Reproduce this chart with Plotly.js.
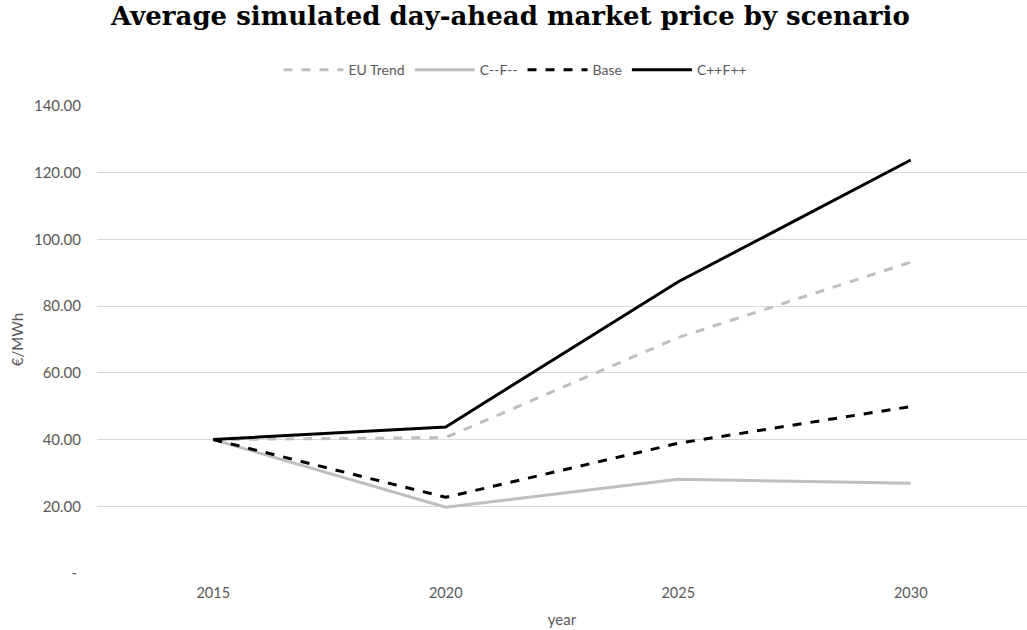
<!DOCTYPE html>
<html>
<head>
<meta charset="utf-8">
<script src="https://cdn.plot.ly/plotly-3.0.1.min.js"></script>
<style>html,body{margin:0;padding:0;background:#fff;}#chart{width:1027px;height:630px;}</style>
</head>
<body>
<div id="chart"></div>
<script>
const years = ["2015", "2020", "2025", "2030"];
const euTrend = [40.0, 40.6, 70.6, 93.2];
const cMinus = [40.0, 19.7, 28.1, 26.9];
const base = [40.0, 22.7, 38.9, 49.9];
const cPlus = [40.0, 43.8, 87.3, 123.8];
const yTickVals = [0, 20, 40, 60, 80, 100, 120, 140];
const yTickText = [" - ", "20.00", "40.00", "60.00", "80.00", "100.00", "120.00", "140.00"];

const traces = [
  {x: years, y: euTrend, name: "EU Trend", mode: "lines", line: {color: "#bfbfbf", width: 3, dash: "dash"}},
  {x: years, y: cMinus, name: "C--F--", mode: "lines", line: {color: "#bfbfbf", width: 3}},
  {x: years, y: base, name: "Base", mode: "lines", line: {color: "#000000", width: 3, dash: "dash"}},
  {x: years, y: cPlus, name: "C++F++", mode: "lines", line: {color: "#000000", width: 3}}
];

const layout = {
  width: 1027, height: 630,
  margin: {l: 97, r: 0, t: 106, b: 57},
  paper_bgcolor: "#ffffff", plot_bgcolor: "#ffffff",
  title: {text: "<b>Average simulated day-ahead market price by scenario</b>", x: 0.497, xanchor: "center", y: 0.975, yanchor: "middle",
    font: {family: "DejaVu Serif, serif", size: 26, color: "#000000"}},
  font: {family: "Lato, Open Sans, sans-serif", size: 14, color: "#595959"},
  showlegend: true,
  legend: {orientation: "h", x: 0.45, xanchor: "center", y: 1.077, yanchor: "middle", font: {size: 14, color: "#595959"}, traceorder: "normal", itemwidth: 60},
  xaxis: {type: "category", range: [-0.5, 3.5], showgrid: false, zeroline: false, showline: false, ticks: "outside", ticklen: 7, tickcolor: "rgba(0,0,0,0)",
    title: {text: "year", font: {size: 15, color: "#595959"}, standoff: 14}, tickfont: {size: 14.5, color: "#595959"}},
  yaxis: {range: [0, 140], tickvals: yTickVals, ticktext: yTickText, showgrid: true, gridcolor: "#d9d9d9", gridwidth: 1,
    zeroline: false, showline: false, ticks: "outside", ticklen: 12, tickcolor: "rgba(0,0,0,0)",
    title: {text: "€/MWh", font: {size: 15, color: "#595959"}, standoff: 6}, tickfont: {size: 15, color: "#595959"}}
};

Plotly.newPlot("chart", traces, layout, {displayModeBar: false, staticPlot: true});
</script>
</body>
</html>
